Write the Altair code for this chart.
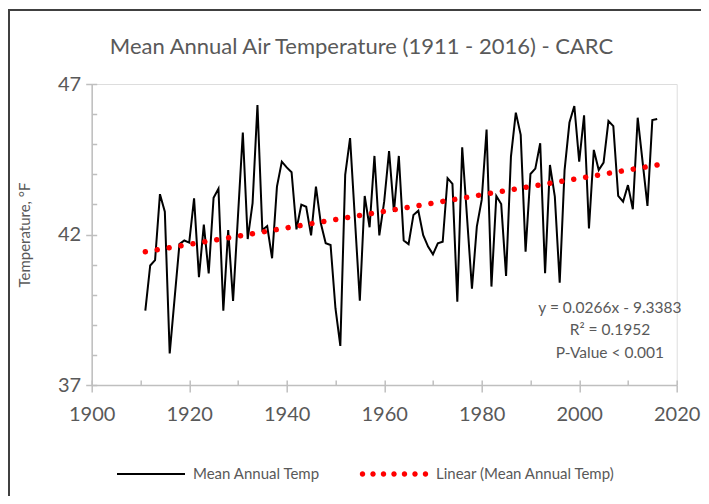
import altair as alt
import pandas as pd

# ---------------- data ----------------
years = list(range(1911, 2017))
temps = [
    39.47, 40.97, 41.15, 43.34, 42.76, 38.05, 39.87, 41.68, 41.80, 41.73,  # 1911-1920
    43.20, 40.58, 42.33, 40.71, 43.22, 43.52, 39.47, 42.15, 39.79, 42.60,  # 1921-1930
    45.39, 41.85, 43.04, 46.30, 42.15, 42.28, 41.21, 43.59, 44.42, 44.23,  # 1931-1940
    44.07, 42.17, 42.99, 42.92, 41.97, 43.59, 42.37, 41.71, 41.65, 39.55,  # 1941-1950
    38.30, 43.98, 45.20, 42.50, 39.80, 43.28, 42.24, 44.61, 41.97, 43.10,  # 1951-1960
    44.77, 42.75, 44.61, 41.80, 41.68, 42.65, 42.79, 41.98, 41.60, 41.34,  # 1961-1970
    41.71, 41.76, 43.87, 43.68, 39.77, 44.90, 42.55, 40.20, 42.26, 43.15,  # 1971-1980
    45.49, 40.27, 43.28, 43.01, 40.62, 44.59, 46.05, 45.31, 41.43, 44.01,  # 1981-1990
    44.19, 45.03, 40.71, 44.31, 43.26, 40.40, 44.14, 45.72, 46.27, 44.42,  # 1991-2000
    45.96, 42.20, 44.81, 44.14, 44.39, 45.77, 45.60, 43.28, 43.09, 43.64,  # 2001-2010
    42.84, 45.88, 44.42, 42.95, 45.80, 45.84,                              # 2011-2016
]
assert len(years) == len(temps)

legend_labels = ["Mean Annual Temp", "Linear (Mean Annual Temp)"]
x_major = [1900, 1920, 1940, 1960, 1980, 2000, 2020]
x_minor = [1900, 1910, 1920, 1930, 1940, 1950, 1960, 1970, 1980, 1990, 2000, 2010, 2020]
y_major = [37, 42, 47]
y_minor = [37, 38, 39, 40, 41, 42, 43, 44, 45, 46, 47]
title_text = ["Mean Annual Air Temperature (1911 - 2016) - CARC"]
y_title = "Temperature, °F"
stats_lines = ["y = 0.0266x - 9.3383", "R² = 0.1952", "P-Value < 0.001"]
stats_year = [2006.3]
stats_temp = [39.80]

df = pd.DataFrame({"year": years, "temp": temps})
leg_df = pd.DataFrame({"series": legend_labels})
stats_df = pd.DataFrame({"year": stats_year, "temp": stats_temp, "label": [stats_lines]})
title_df = pd.DataFrame({"label": title_text})
frame_df = pd.DataFrame({"k": [0]})

# ---------------- style ----------------
FONT = "Lato"
GRAY = "#595959"
AXC = "#BFBFBF"

xs = alt.Scale(domain=[1900, 2020], nice=False, zero=False)
ys = alt.Scale(domain=[37, 47], nice=False, zero=False)

# legend symbol paths (unit square -1..1, scaled by symbol size)
line_path = "M-1,-0.03L1,-0.03L1,0.03L-1,0.03Z"
r = 0.08
parts = []
for i in range(7):
    cx = -0.926 + i * 0.3087
    parts.append(f"M{cx - r:.4f},0A{r},{r} 0 1,0 {cx + r:.4f},0A{r},{r} 0 1,0 {cx - r:.4f},0Z")
dots_path = "".join(parts)

line = alt.Chart(df).mark_line(color="black", strokeWidth=2).encode(
    x=alt.X("year:Q", scale=xs, axis=alt.Axis(
        values=x_major, orient="bottom", tickSize=7, tickWidth=1.5, tickColor=AXC,
        domainColor=AXC, domainWidth=1.5, labelFont=FONT, labelFontSize=20,
        labelColor=GRAY, labelPadding=12, labelFlush=False, grid=False, title=None,
        format="d")),
    y=alt.Y("temp:Q", scale=ys, axis=alt.Axis(
        values=y_major, orient="left", tickSize=6, tickWidth=1.5, tickColor=AXC,
        domainColor=AXC, domainWidth=1.5, labelFont=FONT, labelFontSize=20,
        labelColor=GRAY, labelPadding=5, labelFlush=False, grid=False, format="d",
        title=y_title, titleFont=FONT, titleFontSize=15, titleColor=GRAY,
        titleFontWeight="normal", titleX=-67, titleY=150.5, titleAngle=270,
        titleAlign="center", titleBaseline="middle")),
)

trend = alt.Chart(df).transform_regression("year", "temp").mark_line(
    color="#FF0000", strokeWidth=5.5, strokeDash=[0.01, 12.06], strokeCap="round"
).encode(
    x=alt.X("year:Q", scale=xs, axis=alt.Axis(
        values=x_minor, orient="bottom", offset=-5, tickSize=5, tickWidth=1.5,
        tickColor=AXC, labels=False, domain=False, grid=False, title=None)),
    y=alt.Y("temp:Q", scale=ys, axis=alt.Axis(
        values=y_minor, orient="left", offset=-5, tickSize=5, tickWidth=1.5,
        tickColor=AXC, labels=False, domain=False, grid=False, title=None)),
)

stats = alt.Chart(stats_df).mark_text(
    font=FONT, fontSize=15.5, color=GRAY, align="center", baseline="top", lineHeight=22.5
).encode(
    x=alt.X("year:Q", scale=xs, axis=None),
    y=alt.Y("temp:Q", scale=ys, axis=None),
    text="label",
)

title = alt.Chart(title_df).mark_text(
    font=FONT, fontSize=22, color=GRAY, align="center", baseline="alphabetic"
).encode(
    x=alt.value(269.8), y=alt.value(-30), text="label"
)

leg_common = dict(
    orient="none", legendX=25.3, legendY=356, direction="horizontal", title=None,
    symbolSize=4624, labelFont=FONT, labelFontSize=15, labelColor=GRAY, labelLimit=400,
    labelOffset=8, columnPadding=38, padding=0, symbolStrokeWidth=0, symbolOpacity=1,
)
legend_layer = alt.Chart(leg_df).transform_filter("false").mark_point(
    filled=True, opacity=1, strokeWidth=0
).encode(
    color=alt.Color("series:N", scale=alt.Scale(domain=legend_labels, range=["black", "#FF0000"]),
                    legend=alt.Legend(**leg_common)),
    shape=alt.Shape("series:N", scale=alt.Scale(domain=legend_labels, range=[line_path, dots_path]),
                    legend=alt.Legend(**leg_common)),
)

frame = alt.Chart(frame_df).mark_rect(
    fillOpacity=0, stroke="#404040", strokeWidth=2
).encode(
    x=alt.value(-82.7), x2=alt.value(720), y=alt.value(-74), y2=alt.value(520)
)

chart = alt.layer(frame, title, line, trend, stats, legend_layer).resolve_axis(
    x="independent", y="independent"
).properties(
    width=585, height=301,
    padding={"left": 83.7, "top": 76, "right": 24.3, "bottom": 111},
    autosize="none",
).configure_view(strokeWidth=0).configure(background="white")

chart.save("out.html", embed_options={"renderer": "svg", "actions": False})
